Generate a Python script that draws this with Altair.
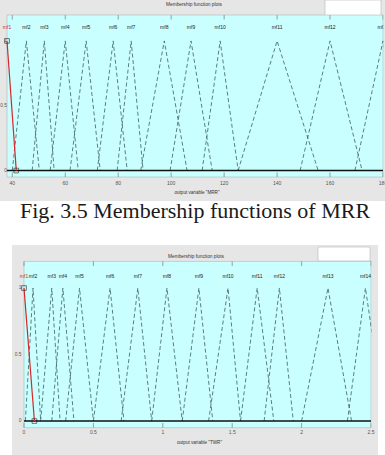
import altair as alt
import pandas as pd

W, H = 385, 455

# ---------------- data ----------------
top_names = [f"mf{i}" for i in range(1, 14)]
top_a = [38, 40, 47.5, 54.3, 61.8, 72.1, 79.6, 88.5, 99.6, 111.7, 125.3, 148.7, 169.4]
top_b = [38, 45.3, 52.1, 60, 67.9, 78.1, 84.9, 97.4, 107.5, 118.5, 140, 160, 180]
top_c = [41.5, 50.2, 55.8, 64.9, 73.2, 83.4, 89.4, 106, 115.5, 125.3, 155.5, 172.1, 190]
top_ticks = [40, 60, 80, 100, 120, 140, 160, 180]
top_tick_labels = ["40", "60", "80", "100", "120", "140", "160", "180"]

bot_names = [f"mf{i}" for i in range(1, 15)]
bot_a = [0, 0.01, 0.12, 0.2, 0.3, 0.5, 0.7, 0.92, 1.14, 1.33, 1.56, 1.73, 2.0, 2.33]
bot_b = [0, 0.065, 0.2, 0.28, 0.4, 0.62, 0.82, 1.03, 1.26, 1.47, 1.68, 1.84, 2.19, 2.46]
bot_c = [0.075, 0.12, 0.26, 0.36, 0.5, 0.72, 0.92, 1.14, 1.36, 1.56, 1.8, 1.94, 2.36, 2.6]
bot_ticks = [0, 0.5, 1, 1.5, 2, 2.5]
bot_tick_labels = ["0", "0.5", "1", "1.5", "2", "2.5"]

y_ticks = [0, 0.5, 1]
y_tick_labels = ["0", "0.5", "1"]

GRAY = "#e6e6e6"
CYAN = "#caffff"
LINE = "#3b6262"
RED = "#d8262a"
FONT = "Liberation Sans"
ONE = pd.DataFrame({"k": [0]})


def tri_points(names, a, b, c):
    rows = []
    for n, aa, bb, cc in zip(names, a, b, c):
        pts = []
        if aa < bb:
            pts.append((aa, 0))
        pts.append((bb, 1))
        pts.append((cc, 0))
        for k, (x, y) in enumerate(pts):
            rows.append({"mf": n, "x": x, "y": y, "k": k})
    return pd.DataFrame(rows)


def box(x0, x1, y0, y1, fill, stroke=None):
    kw = {"fill": fill}
    if stroke:
        kw.update(stroke=stroke, strokeWidth=0.6)
    return alt.Chart(ONE).mark_rect(**kw).encode(
        x=alt.value(x0), x2=alt.value(x1), y=alt.value(y0), y2=alt.value(y1))


def panel(names, a, b, c, xdom, xr, yr, ticks, tick_labels, xlabel,
          mf_label_y, tick_label_y, xlabel_y, ytick_x, title_y, title_x):
    ydom = [-0.05, 1.2]
    sx = alt.Scale(domain=xdom, range=xr)
    sy = alt.Scale(domain=ydom, range=yr)
    X = lambda f: alt.X(f, type="quantitative", scale=sx, axis=None)
    Y = lambda f: alt.Y(f, type="quantitative", scale=sy, axis=None)
    layers = []
    # cyan plot area
    area = pd.DataFrame({"x": [xdom[0]], "x2": [xdom[1]], "y": [ydom[0]], "y2": [ydom[1]]})
    layers.append(alt.Chart(area).mark_rect(fill=CYAN, stroke="#a9b9b9", strokeWidth=0.6).encode(
        x=X("x"), x2="x2", y=Y("y"), y2="y2"))
    # ticks top/bottom
    tk = pd.DataFrame({"t": ticks})
    layers.append(alt.Chart(tk).mark_rule(color="#888", strokeWidth=0.8).encode(
        x=X("t"), y=alt.datum(1.2, scale=sy), y2=alt.datum(1.165)))
    layers.append(alt.Chart(tk).mark_rule(color="#888", strokeWidth=0.8).encode(
        x=X("t"), y=alt.datum(-0.05, scale=sy), y2=alt.datum(-0.015)))
    # triangles
    pts = tri_points(names, a, b, c)
    others = pts[pts.mf != names[0]]
    first = pts[pts.mf == names[0]]
    layers.append(alt.Chart(others).mark_line(color=LINE, strokeWidth=0.9, strokeDash=[4, 2.5],
                                              opacity=0.9).encode(
        x=X("x"), y=Y("y"), detail="mf:N", order="k:Q"))
    # zero line
    zl = pd.DataFrame({"x": [xdom[0]], "x2": [xdom[1]], "y": [0]})
    layers.append(alt.Chart(zl).mark_rule(color="#111", strokeWidth=1.6).encode(
        x=X("x"), x2="x2", y=Y("y")))
    layers.append(alt.Chart(first).mark_line(color=RED, strokeWidth=1.2).encode(
        x=X("x"), y=Y("y"), order="k:Q"))
    sq = pd.DataFrame({"x": [b[0], c[0]], "y": [1, 0]})
    layers.append(alt.Chart(sq).mark_point(shape="square", filled=False, size=22,
                                           color="#111", strokeWidth=0.8).encode(
        x=X("x"), y=Y("y")))
    # mf labels
    lab = pd.DataFrame({"mf": names, "x": b})
    layers.append(alt.Chart(lab).mark_text(fontSize=5, font=FONT, baseline="middle").encode(
        x=X("x"), y=alt.value(mf_label_y), text="mf:N",
        color=alt.condition(alt.datum.mf == names[0], alt.value(RED), alt.value("#222"))))
    # x tick labels
    tl = pd.DataFrame({"t": ticks, "lab": tick_labels})
    layers.append(alt.Chart(tl).mark_text(fontSize=5, font=FONT, color="#555", baseline="middle").encode(
        x=X("t"), y=alt.value(tick_label_y), text="lab:N"))
    # y tick labels
    yl = pd.DataFrame({"t": y_ticks, "lab": y_tick_labels})
    layers.append(alt.Chart(yl).mark_text(fontSize=4.8, font=FONT, color="#555", align="right",
                                          baseline="middle").encode(
        x=alt.value(ytick_x), y=Y("t"), text="lab:N"))
    # axis label and title
    layers.append(alt.Chart(ONE).mark_text(fontSize=4.6, font=FONT, color="#333").encode(
        x=alt.value((xr[0] + xr[1]) / 2 + 2), y=alt.value(xlabel_y), text=alt.value(xlabel)))
    layers.append(alt.Chart(ONE).mark_text(fontSize=4.8, font=FONT, color="#333").encode(
        x=alt.value(title_x), y=alt.value(title_y), text=alt.value("Membership function plots")))
    return layers


layers = []
# background frames
layers.append(box(0, 385, 0, 201, GRAY))
layers.append(box(12, 378, 245, 455, GRAY))
layers.append(box(325, 381, 0, 18, "#ffffff", "#b5b5b5"))
layers.append(box(318, 370, 247, 261, "#ffffff", "#b5b5b5"))

layers += panel(top_names, top_a, top_b, top_c, [38, 180], [7, 383], [177, 15],
                top_ticks, top_tick_labels, 'output variable "MRR"',
                mf_label_y=27, tick_label_y=183, xlabel_y=193, ytick_x=7,
                title_y=5, title_x=194)
layers += panel(bot_names, bot_a, bot_b, bot_c, [0, 2.5], [24, 371], [427.7, 261.4],
                bot_ticks, bot_tick_labels, 'output variable "TWR"',
                mf_label_y=276, tick_label_y=432, xlabel_y=443, ytick_x=21.5,
                title_y=257, title_x=196)

# covers for line overhang beyond the right edge of each plot area
layers.append(box(383.5, 385, 15, 177, GRAY))
layers.append(box(371.5, 378, 262, 428, GRAY))
layers.append(box(378, 385, 262, 428, "#ffffff"))

# caption
layers.append(alt.Chart(ONE).mark_text(fontSize=22, font="Liberation Serif", color="#1a1a1a",
                                       baseline="alphabetic").encode(
    x=alt.value(195), y=alt.value(218), text=alt.value("Fig. 3.5 Membership functions of MRR")))

chart = alt.layer(*layers).resolve_scale(x="independent", y="independent", color="independent").properties(
    width=W, height=H, autosize=alt.AutoSizeParams(type="none"), padding=0, background="#ffffff"
).configure_view(stroke=None)

chart.save("out.html", embed_options={"renderer": "svg", "actions": False})
